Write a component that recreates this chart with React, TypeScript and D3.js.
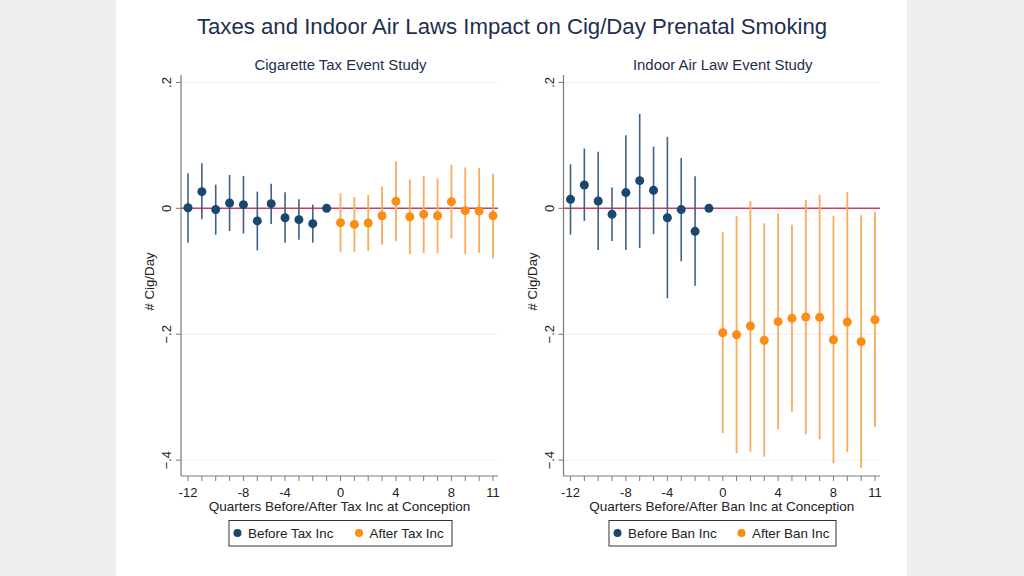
import React from "react";
import * as d3 from "d3";

// Period categories (as plotted, in order)
const periods = ["-12","-11","-10","-9","-8","-6","-5","-4","-3","-2","-1","0","1","2","3","4","5","6","7","8","9","10","11"];
const tickLabels = ["-12","-8","-4","0","4","8","11"];
const beforePeriods = periods.slice(0, 11);
const afterPeriods = periods.slice(11);
const yTicks = [0.2, 0, -0.2, -0.4];

// Cigarette tax event study
const taxBeforeEst = [0.001, 0.0265, -0.002, 0.0085, 0.0058, -0.020, 0.0074, -0.0149, -0.018, -0.0244, 0];
const taxBeforeHi = [0.0557, 0.0716, 0.0377, 0.053, 0.0515, 0.0265, 0.039, 0.0255, 0.0143, 0.0058, null];
const taxBeforeLo = [-0.0546, -0.0175, -0.0419, -0.036, -0.040, -0.0668, -0.025, -0.0546, -0.050, -0.0546, null];
const taxAfterEst = [-0.0228, -0.0255, -0.0233, -0.0117, 0.0111, -0.0133, -0.0095, -0.0117, 0.0106, -0.0037, -0.0042, -0.0117];
const taxAfterHi = [0.0239, 0.018, 0.0212, 0.0345, 0.0748, 0.046, 0.0515, 0.0472, 0.069, 0.065, 0.0637, 0.055];
const taxAfterLo = [-0.069, -0.0695, -0.068, -0.0578, -0.052, -0.0727, -0.0711, -0.0711, -0.0477, -0.0727, -0.0706, -0.0796];

// Indoor air law event study
const banBeforeEst = [0.0143, 0.037, 0.0117, -0.0095, 0.025, 0.044, 0.0286, -0.0149, -0.002, -0.0366, 0];
const banBeforeHi = [0.070, 0.095, 0.090, 0.033, 0.116, 0.150, 0.098, 0.1135, 0.080, 0.051, null];
const banBeforeLo = [-0.042, -0.020, -0.066, -0.052, -0.066, -0.063, -0.041, -0.143, -0.084, -0.123, null];
const banAfterEst = [-0.1976, -0.2008, -0.187, -0.2097, -0.180, -0.1748, -0.1727, -0.1732, -0.2087, -0.1806, -0.212, -0.177];
const banAfterHi = [-0.038, -0.0122, 0.0116, -0.0238, -0.008, -0.026, 0.0137, 0.0217, -0.0117, 0.0254, -0.011, -0.0064];
const banAfterLo = [-0.357, -0.389, -0.3866, -0.3946, -0.351, -0.323, -0.359, -0.367, -0.405, -0.387, -0.412, -0.347];

const BLUE = "#1a476f";
const BLUE_CI = "#3f6186";
const ORANGE = "#fb8c14";
const ORANGE_CI = "#f7ab5c";
const RED = "#c9405e";
const FONT = "'Liberation Sans', Arial, sans-serif";

const TOP = 75;
const BOTTOM = 476;

type PanelProps = {
  axisX: number; rightX: number; subtitle: string; xTitle: string;
  legendBefore: string; legendAfter: string;
  bEst: number[]; bHi: (number | null)[]; bLo: (number | null)[];
  aEst: number[]; aHi: number[]; aLo: number[];
  legendX: number; legendW: number; legendGap: number;
};

function Panel(p: PanelProps) {
  const x = d3.scalePoint<string>().domain(periods).range([p.axisX + 7, p.rightX - 5]);
  const y = d3.scaleLinear().domain([-0.4252, 0.2118]).range([BOTTOM, TOP]);
  const cx = (p.axisX + p.rightX) / 2;
  const fmt = (v: number) => (v === 0 ? "0" : d3.format(".1f")(v).replace("0.", "."));
  return (
    <g>
      <text x={cx + 1} y={70} textAnchor="middle" fontSize={14.9} fill="#1e2f50" fontFamily={FONT}>{p.subtitle}</text>
      {yTicks.filter((t) => t !== 0).map((t) => (
        <line key={"g" + t} x1={p.axisX} x2={p.rightX} y1={y(t)} y2={y(t)} stroke="#eeeeee" strokeWidth={1} />
      ))}
      <line x1={p.axisX} x2={p.rightX} y1={y(0)} y2={y(0)} stroke={RED} strokeWidth={1.5} />
      {/* axes */}
      <line x1={p.axisX} x2={p.axisX} y1={TOP} y2={BOTTOM} stroke="#7a7a7a" strokeWidth={1.2} />
      <line x1={p.axisX} x2={p.rightX} y1={BOTTOM} y2={BOTTOM} stroke="#7a7a7a" strokeWidth={1.2} />
      {yTicks.map((t) => (
        <g key={"yt" + t}>
          <line x1={p.axisX - 5} x2={p.axisX} y1={y(t)} y2={y(t)} stroke="#7a7a7a" strokeWidth={1} />
          <text transform={`translate(${p.axisX - 10},${y(t)}) rotate(-90)`} textAnchor="middle" fontSize={13} fill="#222" fontFamily={FONT}>{fmt(t)}</text>
        </g>
      ))}
      {periods.map((c) => (
        <line key={"xt" + c} x1={x(c)} x2={x(c)} y1={BOTTOM} y2={BOTTOM + 5} stroke="#7a7a7a" strokeWidth={1} />
      ))}
      {tickLabels.map((c) => (
        <text key={"xl" + c} x={x(c)} y={BOTTOM + 21} textAnchor="middle" fontSize={13} fill="#222" fontFamily={FONT}>{c}</text>
      ))}
      <text x={cx} y={BOTTOM + 34.5} textAnchor="middle" fontSize={13.5} fill="#222" fontFamily={FONT}>{p.xTitle}</text>
      <text transform={`translate(${p.axisX - 27},${(TOP + BOTTOM) / 2 + 6}) rotate(-90)`} textAnchor="middle" fontSize={13.3} fill="#222" fontFamily={FONT}># Cig/Day</text>
      {/* CIs */}
      {beforePeriods.map((c, i) => {
        const hi = p.bHi[i], lo = p.bLo[i];
        return hi == null || lo == null ? null : (
          <line key={"bci" + c} x1={x(c)} x2={x(c)} y1={y(hi)} y2={y(lo)} stroke={BLUE_CI} strokeWidth={1.6} />
        );
      })}
      {afterPeriods.map((c, i) => (
        <line key={"aci" + c} x1={x(c)} x2={x(c)} y1={y(p.aHi[i])} y2={y(p.aLo[i])} stroke={ORANGE_CI} strokeWidth={1.8} />
      ))}
      {beforePeriods.map((c, i) => (
        <circle key={"bp" + c} cx={x(c)} cy={y(p.bEst[i])} r={4.5} fill={BLUE} />
      ))}
      {afterPeriods.map((c, i) => (
        <circle key={"ap" + c} cx={x(c)} cy={y(p.aEst[i])} r={4.5} fill={ORANGE} />
      ))}
      {/* legend */}
      <rect x={p.legendX} y={520.5} width={p.legendW} height={25.5} fill="#fff" stroke="#333" strokeWidth={1} />
      <circle cx={p.legendX + 8.5} cy={533} r={4} fill={BLUE} />
      <text x={p.legendX + 19} y={537.5} fontSize={13.4} fill="#222" fontFamily={FONT}>{p.legendBefore}</text>
      <circle cx={p.legendX + 8.5 + p.legendGap} cy={533} r={4} fill={ORANGE} />
      <text x={p.legendX + 19 + p.legendGap} y={537.5} fontSize={13.4} fill="#222" fontFamily={FONT}>{p.legendAfter}</text>
    </g>
  );
}

export default function App() {
  return (
    <svg width={1024} height={576} style={{ position: "absolute", left: 0, top: 0 }}>
      <rect x={0} y={0} width={1024} height={576} fill="#efefef" />
      <rect x={116} y={0} width={791} height={576} fill="#ffffff" />
      <text x={512} y={34} textAnchor="middle" fontSize={22.2} fill="#1e2f50" fontFamily={FONT}>
        Taxes and Indoor Air Laws Impact on Cig/Day Prenatal Smoking
      </text>
      <Panel axisX={181} rightX={498} subtitle="Cigarette Tax Event Study" xTitle="Quarters Before/After Tax Inc at Conception"
        legendBefore="Before Tax Inc" legendAfter="After Tax Inc"
        bEst={taxBeforeEst} bHi={taxBeforeHi} bLo={taxBeforeLo}
        aEst={taxAfterEst} aHi={taxAfterHi} aLo={taxAfterLo}
        legendX={229} legendW={223} legendGap={121.5} />
      <Panel axisX={563.5} rightX={880} subtitle="Indoor Air Law Event Study" xTitle="Quarters Before/After Ban Inc at Conception"
        legendBefore="Before Ban Inc" legendAfter="After Ban Inc"
        bEst={banBeforeEst} bHi={banBeforeHi} bLo={banBeforeLo}
        aEst={banAfterEst} aHi={banAfterHi} aLo={banAfterLo}
        legendX={609} legendW={227} legendGap={124} />
    </svg>
  );
}
